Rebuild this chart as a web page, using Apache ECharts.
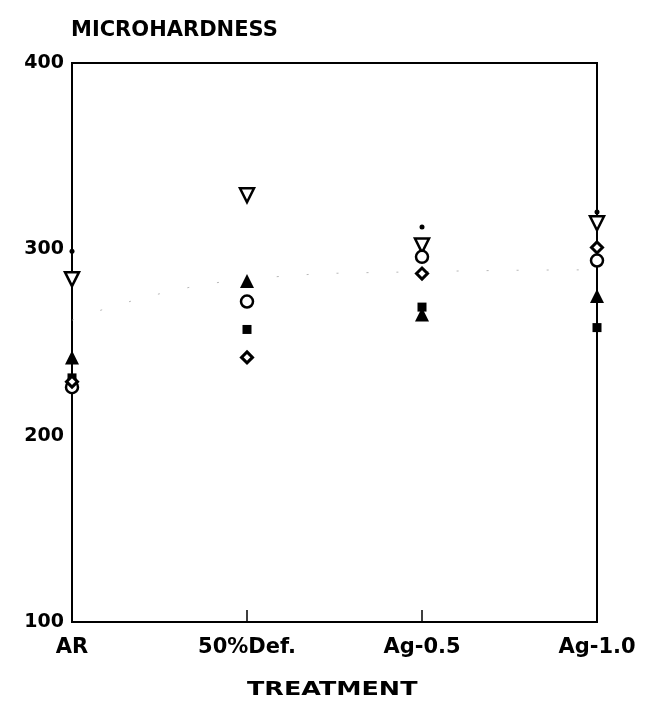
<!DOCTYPE html>
<html><head><meta charset="utf-8">
<script src="https://cdn.jsdelivr.net/npm/echarts@6/dist/echarts.min.js"></script>
<style>html,body{margin:0;padding:0;background:#fff}#c{width:647px;height:702px}</style>
</head><body><div id="c"></div>
<script>
const categories = ['AR', '50%Def.', 'Ag-0.5', 'Ag-1.0'];
const yTicks = [100, 200, 300, 400];
const dotVals = [299, 332, 312, 320];
const downTriVals = [284, 329, 302, 314];
const upTriVals = [242, 283, 265, 275];
const squareVals = [231, 257, 269, 258];
const circleVals = [226, 272, 296, 294];
const diamondVals = [229, 242, 287, 301];
const trendVals = [262, 284, 288, 289];
const xTitle = 'TREATMENT';
const yTitle = 'MICROHARDNESS';

const font = '"DejaVu Sans", Arial, sans-serif';
const chart = echarts.init(document.getElementById('c'));
function sc(name, data, symbol, size, filled, extra) {
  return Object.assign({
    type: 'scatter', name, data, symbol, symbolSize: size,
    itemStyle: { color: filled ? '#000' : '#fff', borderColor: '#000', borderWidth: filled ? 0 : 2.5, opacity: 1 },
    z: 5
  }, extra || {});
}
chart.setOption({
  animation: false,
  backgroundColor: '#fff',
  grid: { left: 72, right: 50, top: 63, bottom: 80, show: true, borderColor: '#000', borderWidth: 2 },
  graphic: [{
    type: 'text', left: 333 - 86, top: 680, scaleX: 1.27,
    style: { text: xTitle, font: 'bold 20px "DejaVu Sans", Arial, sans-serif', fill: '#000' }
  }],
  xAxis: {
    type: 'category', data: categories, boundaryGap: false,
    axisLine: { lineStyle: { color: '#000', width: 2 } },
    axisTick: { inside: true, length: 12, lineStyle: { color: '#000', width: 1.5 } },
    axisLabel: { fontFamily: font, fontWeight: 'bold', fontSize: 21, color: '#000', margin: 15 },
    splitLine: { show: false }
  },
  yAxis: {
    type: 'value', min: 100, max: 400, interval: 100,
    name: yTitle, nameLocation: 'end', nameGap: 22,
    nameTextStyle: { fontFamily: font, fontWeight: 'bold', fontSize: 21, color: '#000', align: 'left', padding: [0, 0, 0, -1] },
    axisLine: { show: true, lineStyle: { color: '#000', width: 2 } },
    axisTick: { inside: true, length: 8, lineStyle: { color: '#000', width: 1.5 } },
    axisLabel: { fontFamily: font, fontWeight: 'bold', fontSize: 19, color: '#000', margin: 8,
      formatter: v => yTicks.includes(v) ? String(v) : '' },
    splitLine: { show: false }
  },
  series: [
    { type: 'line', data: trendVals, smooth: true, symbol: 'none',
      lineStyle: { color: '#999', width: 1, type: [2, 28], opacity: 0.7 }, z: 1 },
    sc('dot', dotVals, 'circle', 5, true),
    sc('down', downTriVals, 'triangle', 14, false, { symbolRotate: 180 }),
    sc('up', upTriVals, 'triangle', 14, true),
    sc('square', squareVals, 'rect', 9, true),
    sc('circle', circleVals, 'circle', 12, false),
    sc('diamond', diamondVals, 'diamond', 11, false, { itemStyle: { color: '#fff', borderColor: '#000', borderWidth: 3, opacity: 1 } })
  ]
});
</script></body></html>
